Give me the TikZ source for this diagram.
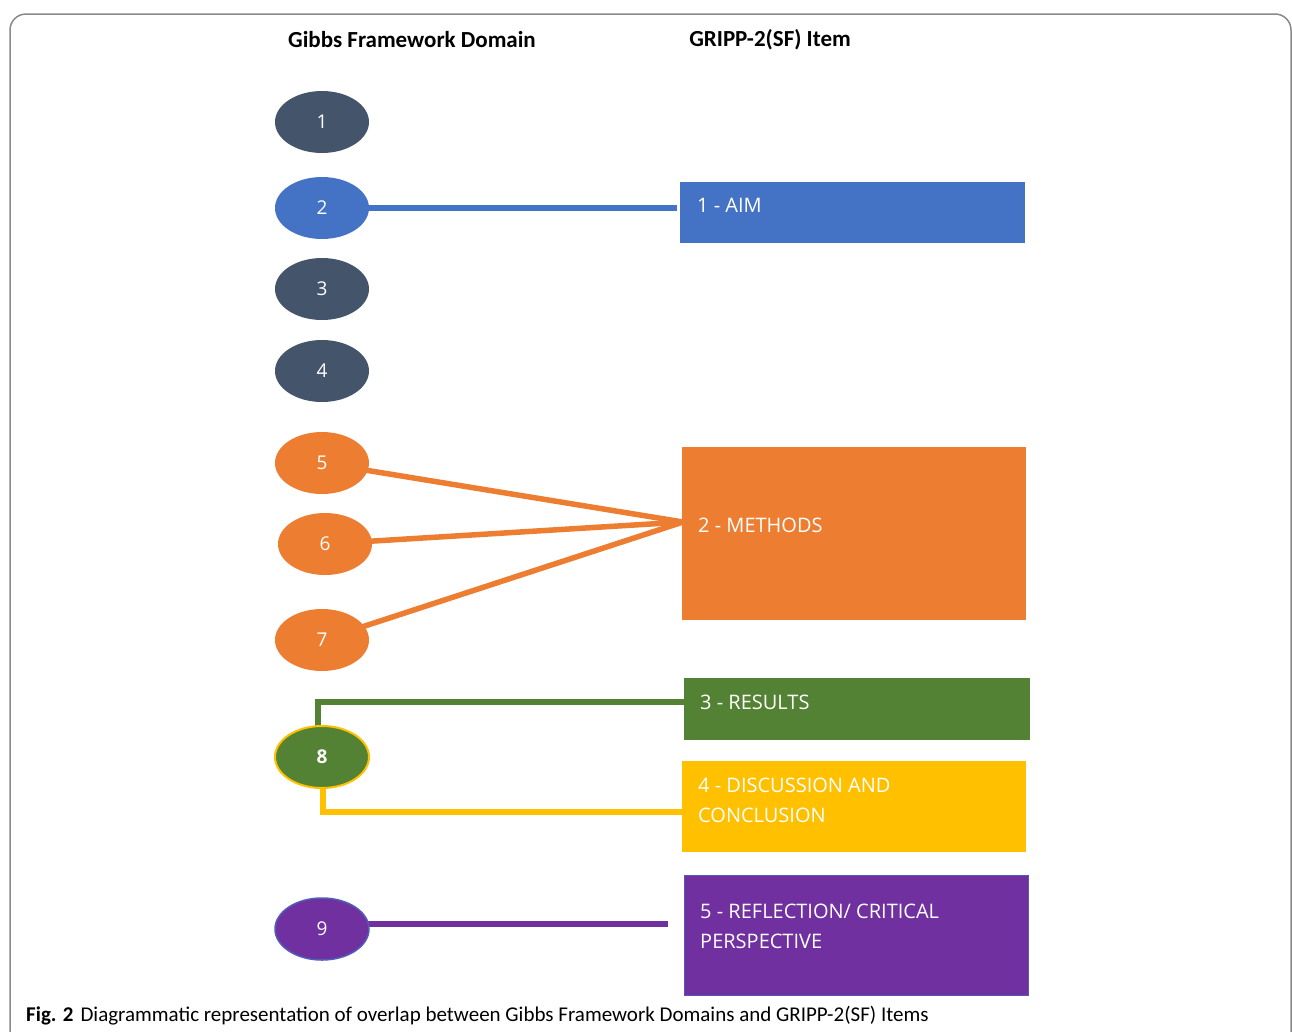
\documentclass[tikz,border=0pt]{standalone}
\usepackage{fontspec}
\setmainfont{Carlito}
\newfontfamily\boxfont{Open Sans}
\usetikzlibrary{shapes.geometric}
\pgfdeclarelayer{back}
\pgfdeclarelayer{bg}
\pgfsetlayers{back,bg,main}
\definecolor{cblue}{HTML}{4472C4}
\definecolor{corange}{HTML}{ED7D31}
\definecolor{cgreen}{HTML}{548235}
\definecolor{cyellow}{HTML}{FFC000}
\definecolor{cpurple}{HTML}{7030A0}
\definecolor{cdark}{HTML}{44546A}
\definecolor{cframe}{HTML}{8A8A8A}
\begin{document}
\begin{tikzpicture}[x=1pt,y=-1pt,
  dom/.style={ellipse, minimum width=94pt, minimum height=62pt, inner sep=0pt,
    text=white, font=\boxfont\fontsize{19}{22}\selectfont},
  box/.style={rectangle, anchor=north west, inner sep=0pt},
  boxtxt/.style={anchor=base west, inner sep=0pt, text=white, align=left,
    font=\boxfont\fontsize{20}{30}\selectfont},
  link/.style={line width=5.5pt},
  head/.style={font=\fontsize{23}{26}\selectfont\bfseries, text=black}]
\useasboundingbox (0,0) rectangle (1292,1031);
\begin{pgfonlayer}{back}
\fill[white] (0,0) rectangle (1292,1031);
\end{pgfonlayer}
\clip (0,0) rectangle (1292,1031);
\draw[cframe, line width=1.5pt, rounded corners=16pt] (10,1060) -- (10,14) -- (1291,14) -- (1291,1060);

\node[head] (h1) at (412,40) {Gibbs Framework Domain};
\node[head] (h2) at (770,40) {GRIPP-2(SF) Item};

% boxes
\node[box, fill=cblue, minimum width=345pt, minimum height=61pt] (aim) at (680,182) {};
\node[box, fill=corange, minimum width=344pt, minimum height=173pt] (met) at (682,447) {};
\node[box, fill=cgreen, minimum width=346pt, minimum height=62pt] (res) at (684,678) {};
\node[box, fill=cyellow, minimum width=344pt, minimum height=91pt] (dis) at (682,761) {};
\node[box, fill=cpurple, draw=cblue!60!cpurple, line width=1pt, minimum width=344pt, minimum height=120pt] (ref) at (684,875) {};

\node[boxtxt] (taim) at (697,212) {1 - AIM};
\node[boxtxt] (tmet) at (698,532) {2 - METHODS};
\node[boxtxt] (tres) at (700,709) {3 - RESULTS};
\node[boxtxt] (tdis1) at (698,792) {4 - DISCUSSION AND};
\node[boxtxt] (tdis2) at (698,822) {CONCLUSION};
\node[boxtxt] (tref1) at (700,918) {5 - REFLECTION/ CRITICAL};
\node[boxtxt] (tref2) at (700,948) {PERSPECTIVE};

% ellipses
\node[dom, fill=cdark] (e1) at (322,122) {1};
\node[dom, fill=cblue] (e2) at (322,208) {2};
\node[dom, fill=cdark] (e3) at (322,289) {3};
\node[dom, fill=cdark] (e4) at (322,371) {4};
\node[dom, fill=corange] (e5) at (322,463) {5};
\node[dom, fill=corange] (e6) at (325,544) {6};
\node[dom, fill=corange] (e7) at (322,640) {7};
\node[dom, fill=cgreen, draw=cyellow, line width=2pt, font=\boxfont\fontsize{19}{22}\selectfont\bfseries] (e8) at (322,757) {8};
\node[dom, fill=cpurple, draw=cblue!70!cpurple, line width=1.5pt] (e9) at (322,929) {9};

% connectors
\coordinate (c2) at (677,208);
\coordinate (cm) at (683,522);
\coordinate (c8a) at (686,702);
\coordinate (c8b) at (684,812);
\coordinate (c9) at (668,924);

\begin{pgfonlayer}{bg}
\draw[link, cblue] (e2.center) -- (c2);
\draw[link, corange] (e5.center) -- (cm);
\draw[link, corange] (e6.center) -- (cm);
\draw[link, corange] (e7.center) -- (cm);
\draw[link, cgreen] ([xshift=-4pt]e8.center) |- (c8a);
\draw[link, cyellow] ([xshift=1pt]e8.center) |- (c8b);
\draw[link, cpurple] (e9.center |- c9) -- (c9);
\end{pgfonlayer}

\node[anchor=west, inner sep=0pt, font=\fontsize{21}{24}\selectfont] (cap) at (26,1016)
  {\textbf{Fig. 2}\hspace{7pt}Diagrammatic representation of overlap between Gibbs Framework Domains and GRIPP-2(SF) Items};
\end{tikzpicture}
\end{document}
